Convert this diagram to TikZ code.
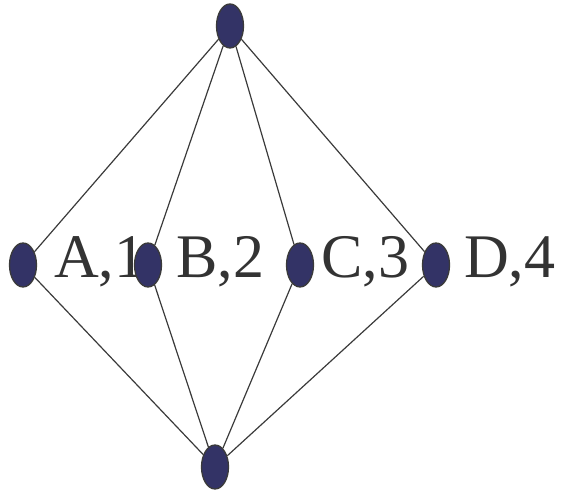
\documentclass[tikz,border=0pt]{standalone}
\usepackage{fontspec}
\setmainfont{Liberation Serif}
\usetikzlibrary{shapes.geometric}
\definecolor{navy}{HTML}{333366}
\definecolor{dark}{HTML}{3A3A3A}
\definecolor{txt}{HTML}{333333}
\tikzset{
  dot/.style ={ellipse, draw=dark, line width=1.3pt, fill=navy,
               minimum width=27bp, minimum height=44bp, inner sep=0pt},
  edge/.style={draw=dark, line width=1.2pt},
  lbl/.style ={anchor=base west, inner sep=0pt, text=txt,
               font=\fontsize{62bp}{62bp}\selectfont},
}
\begin{document}
\begin{tikzpicture}[x=1bp, y=1bp]
  \useasboundingbox (0,0) rectangle (563,491);

  % ---- labels (the next dot sits on top of them) ----
  \node[lbl] (la) at (54,213) {A,1};
  \node[lbl] (lb) at (176,213) {B,2};
  \node[lbl] (lc) at (321,213) {C,3};
  \node[lbl] (ld) at (464,213) {D,4};

  % ---- top and bottom ----
  \node[dot] (top) at (230,465) {};
  \node[dot] (bot) at (215,24) {};

  % ---- middle row ----
  \node[dot] (a) at (23,226) {};
  \node[dot] (b) at (148,226) {};
  \node[dot] (c) at (300,226) {};
  \node[dot] (d) at (436,226) {};

  % ---- edges ----
  \draw[edge] (top) -- (a);
  \draw[edge] (top) -- (b);
  \draw[edge] (top) -- (c);
  \draw[edge] (top) -- (d);
  \draw[edge] (bot) -- (a);
  \draw[edge] (bot) -- (b);
  \draw[edge] (bot) -- (c);
  \draw[edge] (bot) -- (d);
\end{tikzpicture}
\end{document}
